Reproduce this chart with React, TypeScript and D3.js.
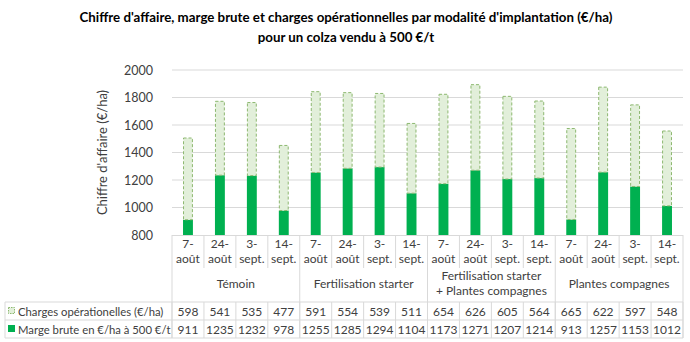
import React from "react";
import * as d3 from "d3";

const groups = ["Témoin", "Fertilisation starter", "Fertilisation starter\n+ Plantes compagnes", "Plantes compagnes"];
const dates = ["7-\naoût", "24-\naoût", "3-\nsept.", "14-\nsept."];
const charges = [598, 541, 535, 477, 591, 554, 539, 511, 654, 626, 605, 564, 665, 622, 597, 548];
const marge = [911, 1235, 1232, 978, 1255, 1285, 1294, 1104, 1173, 1271, 1207, 1214, 913, 1257, 1153, 1012];
const yTicks = [800, 1000, 1200, 1400, 1600, 1800, 2000];
const seriesNames = ["Charges opérationelles (€/ha)", "Marge brute en €/ha à 500 €/t"];

const W = 690, H = 342;
const left = 172, right = 683;
const top = 70, base = 235;
const FONT = "Lato, 'Open Sans', sans-serif";
const GREEN = "#00B050";
const LIGHT = "#E2EFDA";
const DASH = "#8DB870";
const GRID = "#D9D9D9";
const TXT = "#404040";

export default function App() {
  const cats = d3.range(charges.length).map(String);
  const xCol = d3.scaleBand<string>().domain(cats).range([left, right]).padding(0);
  const xBar = d3.scaleBand<string>().domain(cats).range([left, right]).paddingInner(0.69).paddingOuter(0.345);
  const y = d3.scaleLinear().domain([800, 2000]).range([base, top]);
  const step = xCol.step();
  const row1Bottom = 268, row2Bottom = 302, row3Bottom = 320, row4Bottom = 338;
  const clampY = (v: number) => y(Math.max(800, v));

  return (
    <svg width={W} height={H} style={{ position: "absolute", left: 0, top: 0, background: "#fff" }} fontFamily={FONT}>
      <text x={346} y={22} textAnchor="middle" fontSize={13.3} fontWeight="bold" fill="#000">
        Chiffre d'affaire, marge brute et charges opérationnelles par modalité d'implantation (€/ha)
      </text>
      <text x={346} y={42} textAnchor="middle" fontSize={13.3} fontWeight="bold" fill="#000">
        pour un colza vendu à 500 €/t
      </text>

      {yTicks.map((t) => (
        <g key={t}>
          {t > 800 && <line x1={left} x2={right} y1={y(t)} y2={y(t)} stroke={GRID} strokeWidth={1} />}
          <text x={153} y={y(t) + 4.5} textAnchor="end" fontSize={12.5} fill={TXT}>{t}</text>
        </g>
      ))}
      <text transform={`translate(107,${(top + base) / 2}) rotate(-90)`} textAnchor="middle" fontSize={13} fill={TXT}>
        Chiffre d'affaire (€/ha)
      </text>

      {cats.map((c, i) => {
        const bx = xBar(c)!;
        const bw = xBar.bandwidth();
        const m = marge[i];
        const tot = m + charges[i];
        return (
          <g key={c}>
            <rect x={bx} y={clampY(m)} width={bw} height={base - clampY(m)} fill={GREEN} />
            <rect x={bx + 0.5} y={clampY(tot) + 0.5} width={bw - 1} height={clampY(m) - clampY(tot) - 0.5}
              fill={LIGHT} stroke={DASH} strokeWidth={1} strokeDasharray="3,2" />
          </g>
        );
      })}

      {/* category axis */}
      <line x1={left} x2={right} y1={base + 0.5} y2={base + 0.5} stroke={GRID} />
      {d3.range(charges.length + 1).map((i) => {
        const x = left + i * step;
        const isGroup = i % 4 === 0;
        return <line key={"v" + i} x1={x} x2={x} y1={base} y2={isGroup ? row4Bottom : row1Bottom} stroke={GRID} />;
      })}
      {d3.range(charges.length + 1).map((i) => {
        const x = left + i * step;
        return <line key={"t" + i} x1={x} x2={x} y1={row2Bottom} y2={row4Bottom} stroke={GRID} />;
      })}
      {cats.map((c, i) => {
        const cx = xCol(c)! + step / 2;
        const [a, b] = dates[i % 4].split("\n");
        return (
          <g key={"d" + c} fontSize={12} fill={TXT}>
            <text x={cx} y={248} textAnchor="middle">{a}</text>
            <text x={cx} y={263} textAnchor="middle">{b}</text>
          </g>
        );
      })}
      {groups.map((g, gi) => {
        const cx = left + (gi * 4 + 2) * step;
        const lines = g.split("\n");
        const y0 = lines.length === 1 ? 288 : 280;
        return lines.map((l, li) => (
          <text key={g + li} x={cx} y={y0 + li * 15} textAnchor="middle" fontSize={12} fill={TXT}>{l}</text>
        ));
      })}

      {/* data table */}
      <line x1={5} x2={right} y1={row2Bottom} y2={row2Bottom} stroke={GRID} />
      <line x1={5} x2={right} y1={row3Bottom} y2={row3Bottom} stroke={GRID} />
      <line x1={5} x2={right} y1={row4Bottom} y2={row4Bottom} stroke={GRID} />
      <line x1={5} x2={5} y1={row2Bottom} y2={row4Bottom} stroke={GRID} />
      <rect x={8.5} y={307.5} width={6} height={6} fill={LIGHT} stroke={DASH} strokeDasharray="1.5,1" />
      <rect x={8} y={325} width={7} height={7} fill={GREEN} />
      <text x={18} y={315.5} fontSize={11.3} fill={TXT}>{seriesNames[0]}</text>
      <text x={18} y={333.5} fontSize={11.3} fill={TXT}>{seriesNames[1]}</text>
      {cats.map((c, i) => {
        const cx = xCol(c)! + step / 2;
        return (
          <g key={"v" + c} fontSize={12} fill={TXT}>
            <text x={cx} y={315.5} textAnchor="middle">{charges[i]}</text>
            <text x={cx} y={333.5} textAnchor="middle">{marge[i]}</text>
          </g>
        );
      })}
    </svg>
  );
}
